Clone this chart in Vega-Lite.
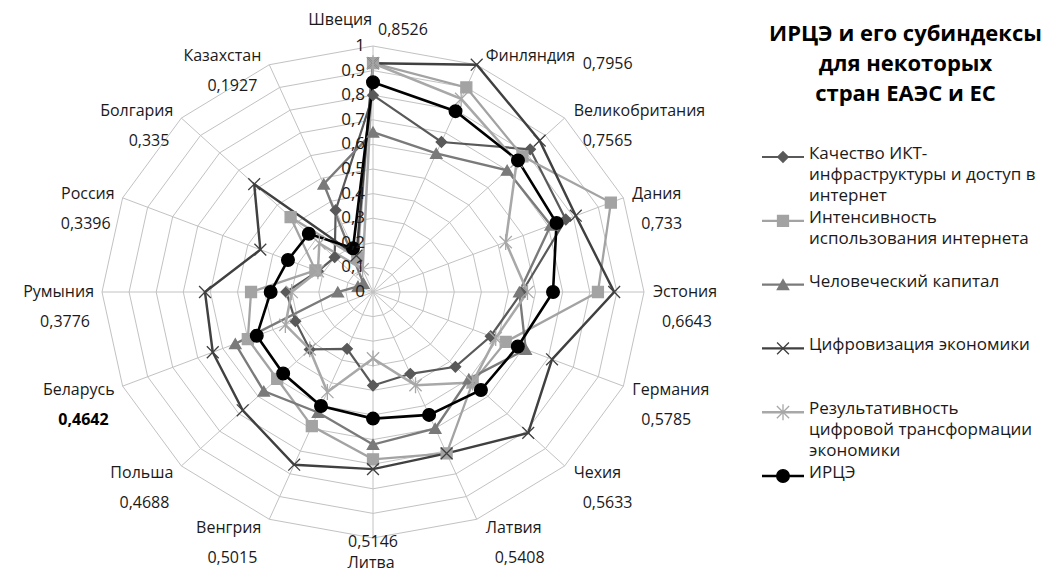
{
  "$schema": "https://vega.github.io/schema/vega-lite/v6.json",
  "autosize": {"type": "none"},
  "padding": {"left": 102, "top": 46, "right": 949, "bottom": 528},
  "background": "white",
  "bounds": "flush",
  "spacing": 116,
  "config": {"view": {"stroke": null}, "font": "Open Sans"},
  "datasets": {
    "radar": [
      {"country": "Швеция", "ikt": 0.80, "inet": 0.93, "hc": 0.65, "dig": 0.93, "res": 0.93, "irce": 0.8526},
      {"country": "Финляндия", "ikt": 0.66, "inet": 0.90, "hc": 0.61, "dig": 1.00, "res": 0.85, "irce": 0.7956},
      {"country": "Великобритания", "ikt": 0.82, "inet": 0.78, "hc": 0.70, "dig": 0.87, "res": 0.75, "irce": 0.7565},
      {"country": "Дания", "ikt": 0.77, "inet": 0.95, "hc": 0.71, "dig": 0.81, "res": 0.53, "irce": 0.733},
      {"country": "Эстония", "ikt": 0.55, "inet": 0.83, "hc": 0.54, "dig": 0.89, "res": 0.57, "irce": 0.6643},
      {"country": "Германия", "ikt": 0.47, "inet": 0.53, "hc": 0.61, "dig": 0.715, "res": 0.49, "irce": 0.5785},
      {"country": "Чехия", "ikt": 0.43, "inet": 0.52, "hc": 0.50, "dig": 0.81, "res": 0.52, "irce": 0.5633},
      {"country": "Латвия", "ikt": 0.36, "inet": 0.71, "hc": 0.60, "dig": 0.71, "res": 0.41, "irce": 0.5408},
      {"country": "Литва", "ikt": 0.38, "inet": 0.68, "hc": 0.62, "dig": 0.72, "res": 0.27, "irce": 0.5146},
      {"country": "Венгрия", "ikt": 0.25, "inet": 0.59, "hc": 0.53, "dig": 0.76, "res": 0.44, "irce": 0.5015},
      {"country": "Польша", "ikt": 0.33, "inet": 0.50, "hc": 0.57, "dig": 0.68, "res": 0.33, "irce": 0.4688},
      {"country": "Беларусь", "ikt": 0.31, "inet": 0.50, "hc": 0.55, "dig": 0.64, "res": 0.35, "irce": 0.4642},
      {"country": "Румыния", "ikt": 0.32, "inet": 0.45, "hc": 0.13, "dig": 0.62, "res": 0.30, "irce": 0.3776},
      {"country": "Россия", "ikt": 0.22, "inet": 0.23, "hc": 0.06, "dig": 0.45, "res": 0.22, "irce": 0.3396},
      {"country": "Болгария", "ikt": 0.20, "inet": 0.43, "hc": 0.05, "dig": 0.62, "res": 0.28, "irce": 0.335},
      {"country": "Казахстан", "ikt": 0.36, "inet": 0.15, "hc": 0.475, "dig": 0.16, "res": 0.10, "irce": 0.1927}
    ],
    "series": [
      {"key": "ikt", "name": "Качество ИКТ-инфраструктуры и доступ в интернет", "label": "Качество ИКТ-\nинфраструктуры и доступ в\nинтернет"},
      {"key": "inet", "name": "Интенсивность использования интернета", "label": "Интенсивность\nиспользования интернета"},
      {"key": "hc", "name": "Человеческий капитал", "label": "Человеческий капитал"},
      {"key": "dig", "name": "Цифровизация экономики", "label": "Цифровизация экономики"},
      {"key": "res", "name": "Результативность цифровой трансформации экономики", "label": "Результативность\nцифровой трансформации\nэкономики"},
      {"key": "irce", "name": "ИРЦЭ", "label": "ИРЦЭ"}
    ],
    "levels": [
      {"level": 0}, {"level": 0.1}, {"level": 0.2}, {"level": 0.3}, {"level": 0.4}, {"level": 0.5},
      {"level": 0.6}, {"level": 0.7}, {"level": 0.8}, {"level": 0.9}, {"level": 1}
    ]
  },
  "hconcat": [
    {
      "width": 542,
      "height": 492,
      "data": {"name": "radar"},
      "transform": [
        {"window": [{"op": "row_number", "as": "idx"}]},
        {"calculate": "(datum.idx - 1) * PI / 8", "as": "ang"},
        {"calculate": "sin(datum.ang)", "as": "sx"},
        {"calculate": "cos(datum.ang)", "as": "sy"}
      ],
      "encoding": {
        "x": {"field": "px", "type": "quantitative", "scale": {"domain": [-1, 1], "nice": false, "zero": false}, "axis": null},
        "y": {"field": "py", "type": "quantitative", "scale": {"domain": [-1, 1], "nice": false, "zero": false}, "axis": null}
      },
      "layer": [
        {
          "transform": [
            {"calculate": "[0.1,0.2,0.3,0.4,0.5,0.6,0.7,0.8,0.9,1]", "as": "lv"},
            {"flatten": ["lv"]},
            {"calculate": "datum.lv * datum.sx", "as": "px"},
            {"calculate": "datum.lv * datum.sy", "as": "py"}
          ],
          "mark": {"type": "line", "interpolate": "linear-closed", "stroke": "#c2c2c2", "strokeWidth": 1},
          "encoding": {
            "detail": {"field": "lv", "type": "nominal"},
            "order": {"field": "idx", "type": "quantitative"}
          }
        },
        {
          "transform": [
            {"calculate": "datum.sx", "as": "px"},
            {"calculate": "datum.sy", "as": "py"}
          ],
          "mark": {"type": "rule", "stroke": "#c2c2c2", "strokeWidth": 1},
          "encoding": {"x2": {"datum": 0}, "y2": {"datum": 0}}
        },
        {
          "transform": [
            {"fold": ["ikt", "inet", "hc", "dig", "res", "irce"], "as": ["key", "value"]},
            {"lookup": "key", "from": {"data": {"name": "series"}, "key": "key", "fields": ["name"]}},
            {"calculate": "datum.value * datum.sx", "as": "px"},
            {"calculate": "datum.value * datum.sy", "as": "py"}
          ],
          "mark": {"type": "line", "interpolate": "linear-closed"},
          "encoding": {
            "color": {"field": "name", "type": "nominal", "legend": null,
              "scale": {"domain": ["Качество ИКТ-инфраструктуры и доступ в интернет", "Интенсивность использования интернета", "Человеческий капитал", "Цифровизация экономики", "Результативность цифровой трансформации экономики", "ИРЦЭ"],
                        "range": ["#595959", "#a3a3a3", "#7a7a7a", "#404040", "#a8a8a8", "#000000"]}},
            "strokeWidth": {"field": "name", "type": "nominal", "legend": null,
              "scale": {"domain": ["Качество ИКТ-инфраструктуры и доступ в интернет", "Интенсивность использования интернета", "Человеческий капитал", "Цифровизация экономики", "Результативность цифровой трансформации экономики", "ИРЦЭ"],
                        "range": [2.2, 2.6, 2.2, 2.2, 2, 3.6]}},
            "order": {"field": "idx", "type": "quantitative"}
          }
        },
        {
          "transform": [
            {"fold": ["ikt", "inet", "hc", "dig", "res", "irce"], "as": ["key", "value"]},
            {"lookup": "key", "from": {"data": {"name": "series"}, "key": "key", "fields": ["name"]}},
            {"calculate": "datum.value * datum.sx", "as": "px"},
            {"calculate": "datum.value * datum.sy", "as": "py"}
          ],
          "mark": {"type": "point", "filled": true, "opacity": 1, "strokeWidth": 1.3},
          "encoding": {
            "color": {"field": "name", "type": "nominal", "legend": null},
            "stroke": {"field": "name", "type": "nominal", "legend": null,
              "scale": {"domain": ["Качество ИКТ-инфраструктуры и доступ в интернет", "Интенсивность использования интернета", "Человеческий капитал", "Цифровизация экономики", "Результативность цифровой трансформации экономики", "ИРЦЭ"],
                        "range": ["#595959", "#a3a3a3", "#7a7a7a", "#404040", "#a8a8a8", "#000000"]}},
            "shape": {"field": "name", "type": "nominal", "legend": null,
              "scale": {"domain": ["Качество ИКТ-инфраструктуры и доступ в интернет", "Интенсивность использования интернета", "Человеческий капитал", "Цифровизация экономики", "Результативность цифровой трансформации экономики", "ИРЦЭ"],
                        "range": ["diamond", "square", "triangle-up", "M-1,-1L1,1M-1,1L1,-1", "M-1,-1L1,1M-1,1L1,-1M0,-1.3L0,1.3", "circle"]}},
            "size": {"field": "name", "type": "nominal", "legend": null,
              "scale": {"domain": ["Качество ИКТ-инфраструктуры и доступ в интернет", "Интенсивность использования интернета", "Человеческий капитал", "Цифровизация экономики", "Результативность цифровой трансформации экономики", "ИРЦЭ"],
                        "range": [110, 160, 150, 100, 110, 150]}}
          }
        },
        {
          "data": {"name": "levels"},
          "transform": [
            {"calculate": "0", "as": "px"},
            {"calculate": "datum.level", "as": "py"},
            {"calculate": "replace(toString(datum.level), '.', ',')", "as": "t"}
          ],
          "mark": {"type": "text", "align": "right", "baseline": "middle", "dx": -8, "fontSize": 17, "color": "#1a1a1a"},
          "encoding": {"text": {"field": "t"}}
        },
        {
          "transform": [
            {"filter": "datum.sx > 0.1"},
            {"calculate": "datum.sx", "as": "px"},
            {"calculate": "1.04 * datum.sy", "as": "py"}
          ],
          "mark": {"type": "text", "align": "left", "baseline": "middle", "dx": 9, "fontSize": 16, "color": "#1a1a1a"},
          "encoding": {"text": {"field": "country"}}
        },
        {
          "transform": [
            {"filter": "datum.sx > 0.1 && datum.sy < 0.9"},
            {"calculate": "datum.sx", "as": "px"},
            {"calculate": "1.04 * datum.sy", "as": "py"},
            {"calculate": "replace(toString(datum.irce), '.', ',')", "as": "t"}
          ],
          "mark": {"type": "text", "align": "left", "baseline": "middle", "dx": 18, "dy": 30, "fontSize": 16, "color": "#1a1a1a"},
          "encoding": {"text": {"field": "t"}}
        },
        {
          "transform": [
            {"filter": "datum.sx > 0.1 && datum.sy >= 0.9"},
            {"calculate": "datum.sx", "as": "px"},
            {"calculate": "1.04 * datum.sy", "as": "py"},
            {"calculate": "replace(toString(datum.irce), '.', ',')", "as": "t"}
          ],
          "mark": {"type": "text", "align": "left", "baseline": "middle", "dx": 106, "dy": 8, "fontSize": 16, "color": "#1a1a1a"},
          "encoding": {"text": {"field": "t"}}
        },
        {
          "transform": [
            {"filter": "datum.sx < -0.1"},
            {"calculate": "datum.sx", "as": "px"},
            {"calculate": "1.04 * datum.sy", "as": "py"}
          ],
          "mark": {"type": "text", "align": "right", "baseline": "middle", "dx": -8, "fontSize": 16, "color": "#1a1a1a"},
          "encoding": {"text": {"field": "country"}}
        },
        {
          "transform": [
            {"filter": "datum.sx < -0.1 && datum.country != 'Беларусь'"},
            {"calculate": "datum.sx", "as": "px"},
            {"calculate": "1.04 * datum.sy", "as": "py"},
            {"calculate": "replace(toString(datum.irce), '.', ',')", "as": "t"}
          ],
          "mark": {"type": "text", "align": "right", "baseline": "middle", "dx": -12, "dy": 30, "fontSize": 16, "color": "#1a1a1a"},
          "encoding": {"text": {"field": "t"}}
        },
        {
          "transform": [
            {"filter": "datum.country == 'Беларусь'"},
            {"calculate": "datum.sx", "as": "px"},
            {"calculate": "1.04 * datum.sy", "as": "py"},
            {"calculate": "replace(toString(datum.irce), '.', ',')", "as": "t"}
          ],
          "mark": {"type": "text", "align": "right", "baseline": "middle", "dx": -14, "dy": 30, "fontSize": 16, "fontWeight": "bold", "color": "#000000"},
          "encoding": {"text": {"field": "t"}}
        },
        {
          "transform": [
            {"filter": "datum.sy > 0.99"},
            {"calculate": "datum.sx", "as": "px"},
            {"calculate": "datum.sy", "as": "py"}
          ],
          "mark": {"type": "text", "align": "right", "baseline": "middle", "dx": -1, "dy": -26, "fontSize": 16, "color": "#1a1a1a"},
          "encoding": {"text": {"field": "country"}}
        },
        {
          "transform": [
            {"filter": "datum.sy > 0.99"},
            {"calculate": "datum.sx", "as": "px"},
            {"calculate": "datum.sy", "as": "py"},
            {"calculate": "replace(toString(datum.irce), '.', ',')", "as": "t"}
          ],
          "mark": {"type": "text", "align": "left", "baseline": "middle", "dx": 5, "dy": -16, "fontSize": 16, "color": "#1a1a1a"},
          "encoding": {"text": {"field": "t"}}
        },
        {
          "transform": [
            {"filter": "datum.sy < -0.99"},
            {"calculate": "datum.sx", "as": "px"},
            {"calculate": "datum.sy", "as": "py"},
            {"calculate": "replace(toString(datum.irce), '.', ',')", "as": "t"}
          ],
          "mark": {"type": "text", "align": "center", "baseline": "middle", "dy": 4, "fontSize": 16, "color": "#1a1a1a"},
          "encoding": {"text": {"field": "t"}}
        },
        {
          "transform": [
            {"filter": "datum.sy < -0.99"},
            {"calculate": "datum.sx", "as": "px"},
            {"calculate": "datum.sy", "as": "py"}
          ],
          "mark": {"type": "text", "align": "center", "baseline": "middle", "dx": -2, "dy": 25, "fontSize": 16, "color": "#1a1a1a"},
          "encoding": {"text": {"field": "country"}}
        }
      ]
    },
    {
      "width": 291,
      "height": 492,
      "data": {"name": "series"},
      "transform": [{"window": [{"op": "row_number", "as": "k"}]}],
      "title": {
        "text": ["ИРЦЭ и его субиндексы", "для некоторых", "стран ЕАЭС и ЕС"],
        "fontSize": 22, "fontWeight": "bold", "font": "Open Sans", "lineHeight": 30,
        "anchor": "middle", "color": "#000000", "offset": 0, "dy": 60
      },
      "encoding": {
        "y": {"field": "k", "type": "quantitative", "axis": null,
          "scale": {"domain": [-0.74, 6.972], "reverse": true, "nice": false, "zero": false}}
      },
      "layer": [
        {
          "mark": {"type": "rule"},
          "encoding": {
            "x": {"datum": 2, "type": "quantitative", "scale": {"domain": [0, 291], "nice": false, "zero": false}, "axis": null},
            "x2": {"datum": 44},
            "color": {"field": "name", "type": "nominal", "legend": null},
            "strokeWidth": {"field": "name", "type": "nominal", "legend": null}
          }
        },
        {
          "mark": {"type": "point", "filled": true, "opacity": 1, "strokeWidth": 1.3},
          "encoding": {
            "x": {"datum": 23, "type": "quantitative"},
            "color": {"field": "name", "type": "nominal", "legend": null},
            "stroke": {"field": "name", "type": "nominal", "legend": null},
            "shape": {"field": "name", "type": "nominal", "legend": null},
            "size": {"field": "name", "type": "nominal", "legend": null}
          }
        },
        {
          "mark": {"type": "text", "align": "left", "baseline": "top", "dy": -11, "lineBreak": "\n", "fontSize": 17, "lineHeight": 21, "color": "#1a1a1a"},
          "encoding": {
            "x": {"datum": 49, "type": "quantitative"},
            "text": {"field": "label"}
          }
        }
      ]
    }
  ]
}
